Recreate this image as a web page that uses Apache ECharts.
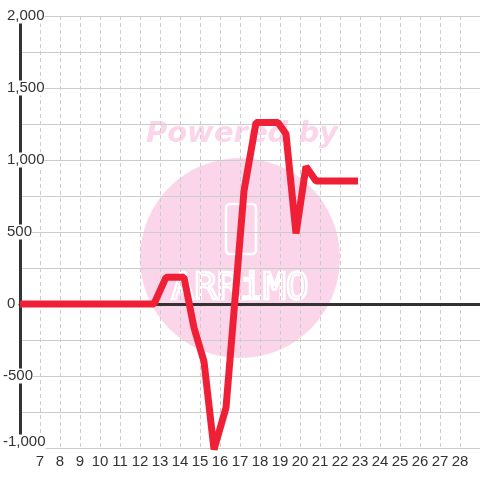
<!DOCTYPE html>
<html style="height: 100%">
<head>
<meta charset="utf-8">
</head>
<body style="height: 100%; margin: 0; background: #fff">
<div id="container" style="width: 480px; height: 480px;"></div>
<script type="text/javascript" src="https://cdn.jsdelivr.net/npm/echarts@6/dist/echarts.min.js"></script>
<script type="text/javascript">
// values
var xValues = [6, 12.7, 13.3, 14.2, 14.7, 15.2, 15.7, 16.3, 17.2, 17.8, 18.9, 19.3, 19.8, 20.3, 20.8, 22.9];
var yValues = [0, 0, 185, 185, -165, -400, -1010, -720, 785, 1260, 1260, 1180, 490, 955, 855, 855];
var xRange = [6, 29];
var yRange = [-1000, 2000];

var points = xValues.map(function (x, i) { return [x, yValues[i]]; });

var dom = document.getElementById('container');
var myChart = echarts.init(dom);

var font = '"Liberation Sans", Arial, sans-serif';

var option = {
    backgroundColor: '#fff',
    animation: false,
    textStyle: { fontFamily: font },
    grid: { left: 20, right: 0, top: 16, bottom: 32 },
    graphic: [
        {
            type: 'circle', z: -10, silent: true,
            shape: { cx: 240, cy: 258, r: 100 },
            style: { fill: '#fbd5ea' }
        },
        {
            type: 'text', z: -10, silent: true,
            x: 242, y: 134,
            style: {
                text: 'Powered by', fill: '#fbd5ea',
                font: 'italic bold 29px "DejaVu Sans"',
                align: 'center', verticalAlign: 'middle'
            }
        },
        {
            type: 'rect', z: -9, silent: true,
            shape: { x: 226, y: 204, width: 30, height: 50, r: 4 },
            style: { fill: 'none', stroke: '#fff', lineWidth: 2.5 }
        },
        {
            type: 'text', z: -9, silent: true,
            x: 240, y: 289,
            style: {
                text: 'ARRiMO', fill: 'none', stroke: '#fff', lineWidth: 2.5,
                font: '38px "DejaVu Sans Mono"',
                align: 'center', verticalAlign: 'middle'
            }
        }
    ],
    xAxis: [
        {
            type: 'value',
            min: xRange[0], max: xRange[1], interval: 1,
            axisLine: { show: false, onZero: false },
            axisTick: { show: false },
            axisLabel: {
                color: '#333', fontSize: 15, margin: 6,
                showMinLabel: false, showMaxLabel: false
            },
            splitLine: { lineStyle: { color: '#ccc', type: [4, 3] } }
        },
        {
            // black zero line
            type: 'value', position: 'bottom',
            min: xRange[0], max: xRange[1],
            axisLine: { show: true, onZero: true, lineStyle: { color: '#333', width: 3 } },
            axisTick: { show: false },
            axisLabel: { show: false },
            splitLine: { show: false }
        }
    ],
    yAxis: {
        type: 'value',
        min: yRange[0], max: yRange[1], interval: 500,
        axisLine: { show: true, lineStyle: { color: '#333', width: 3 } },
        axisTick: { show: false },
        minorTick: { show: false, splitNumber: 2 },
        minorSplitLine: { show: true, lineStyle: { color: '#ccc', width: 1 } },
        splitLine: { lineStyle: { color: '#ccc', width: 1 } },
        axisLabel: {
            margin: 17, align: 'left',
            color: '#333', fontSize: 15,
            backgroundColor: '#fff',
            formatter: function (v) {
                var s = v.toLocaleString('en-US');
                if (v === yRange[0]) return '{b|' + s + '}';
                return v < 0 ? '{n|' + s + '}' : '{p|' + s + '}';
            },
            rich: {
                p: { color: '#333', fontSize: 15, padding: [0, 0, 0, 4] },
                n: { color: '#333', fontSize: 15 },
                b: { color: '#333', fontSize: 15, padding: [0, 0, 12, 0] }
            }
        }
    },
    series: [
        {
            type: 'line',
            data: points,
            showSymbol: false,
            z: 5,
            lineStyle: { color: '#ef2036', width: 7 },
            itemStyle: { color: '#ef2036' }
        }
    ]
};

myChart.setOption(option);
</script>
</body>
</html>
